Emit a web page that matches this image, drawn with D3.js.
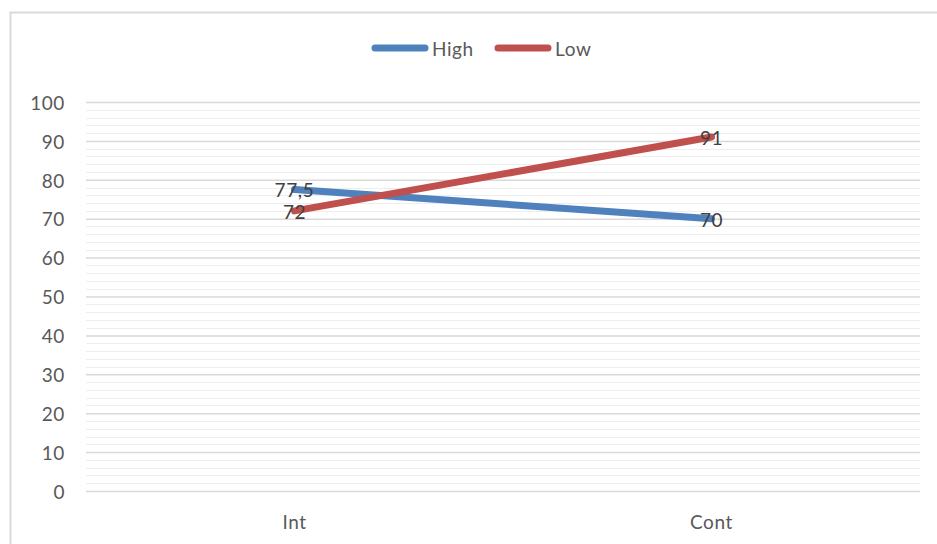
<!DOCTYPE html>
<html>
<head>
<meta charset="utf-8">
<script src="https://cdn.jsdelivr.net/npm/d3@7"></script>
<style>
  html, body { margin: 0; padding: 0; background: #fff; }
  svg { display: block; }
  text { font-family: Lato, "Open Sans", sans-serif; letter-spacing: 0.6px; }
</style>
</head>
<body>
<script>
// Chart data
const categories = ["Int", "Cont"];
const seriesNames = ["High", "Low"];
const highSeries = [77.5, 70];
const lowSeries = [72, 91];
const yTicks = [0, 10, 20, 30, 40, 50, 60, 70, 80, 90, 100];
const minorTicks = d3.range(0, 101, 2);
const seriesColors = ["#4F81BD", "#C0504D"];

const W = 937, H = 544;
const margin = { left: 86, right: 17, top: 102, bottom: 53 };
const FS = 19;

const svg = d3.select("body").append("svg")
  .attr("width", W).attr("height", H);

// Outer chart border (left and top edges visible)
svg.append("rect")
  .attr("x", 10.5).attr("y", 12.5)
  .attr("width", W + 10).attr("height", H + 10)
  .attr("fill", "#fff").attr("stroke", "#d9d9d9").attr("stroke-width", 2);

const x = d3.scaleBand().domain(categories)
  .range([margin.left, W - margin.right]);
const y = d3.scaleLinear().domain([0, 100])
  .range([H - margin.bottom, margin.top]);

const xc = c => x(c) + x.bandwidth() / 2;

// Minor gridlines
svg.append("g").selectAll("line")
  .data(minorTicks.filter(t => t % 10 !== 0))
  .join("line")
  .attr("x1", margin.left).attr("x2", W - margin.right)
  .attr("y1", d => Math.round(y(d)) + 0.5).attr("y2", d => Math.round(y(d)) + 0.5)
  .attr("stroke", "#eeeeee").attr("stroke-width", 1);

// Major gridlines via axis
const yAxis = d3.axisLeft(y).tickValues(yTicks)
  .tickSize(-(W - margin.left - margin.right)).tickPadding(21);
const gy = svg.append("g")
  .attr("transform", `translate(${margin.left},0)`)
  .call(yAxis);
gy.select(".domain").remove();
gy.selectAll(".tick line").attr("stroke", "#d9d9d9").attr("stroke-width", 1.5);
gy.selectAll(".tick text")
  .attr("fill", "#595959").attr("font-size", FS)
  .attr("dy", "0.38em");

// Category axis labels
const xAxis = d3.axisBottom(x).tickSize(0).tickPadding(25);
const gx = svg.append("g")
  .attr("transform", `translate(0,${H - margin.bottom})`)
  .call(xAxis);
gx.select(".domain").remove();
gx.selectAll(".tick text")
  .attr("fill", "#595959").attr("font-size", FS);

// Lines
const allSeries = [highSeries, lowSeries];
const line = d3.line()
  .x((d, i) => xc(categories[i]))
  .y(d => y(d));

allSeries.forEach((vals, s) => {
  svg.append("path")
    .datum(vals)
    .attr("d", line)
    .attr("fill", "none")
    .attr("stroke", seriesColors[s])
    .attr("stroke-width", 7)
    .attr("stroke-linecap", "round");
});

// Data labels, centred on each point
const fmt = v => String(v).replace(".", ",");
allSeries.forEach((vals, s) => {
  svg.append("g").selectAll("text")
    .data(vals)
    .join("text")
    .attr("x", (d, i) => xc(categories[i]))
    .attr("y", d => y(d) + 3)
    .attr("text-anchor", "middle")
    .attr("dominant-baseline", "middle")
    .attr("font-size", FS)
    .attr("fill", "#404040")
    .text(d => fmt(d));
});

// Legend
const legend = svg.append("g");
const legendItems = [
  { name: seriesNames[0], color: seriesColors[0], x: 375 },
  { name: seriesNames[1], color: seriesColors[1], x: 498 }
];
legendItems.forEach(it => {
  legend.append("line")
    .attr("x1", it.x).attr("x2", it.x + 50)
    .attr("y1", 48).attr("y2", 48)
    .attr("stroke", it.color).attr("stroke-width", 7)
    .attr("stroke-linecap", "round");
  legend.append("text")
    .attr("x", it.x + 57).attr("y", 51)
    .attr("dominant-baseline", "middle")
    .attr("font-size", FS).attr("fill", "#595959")
    .text(it.name);
});
</script>
</body>
</html>
